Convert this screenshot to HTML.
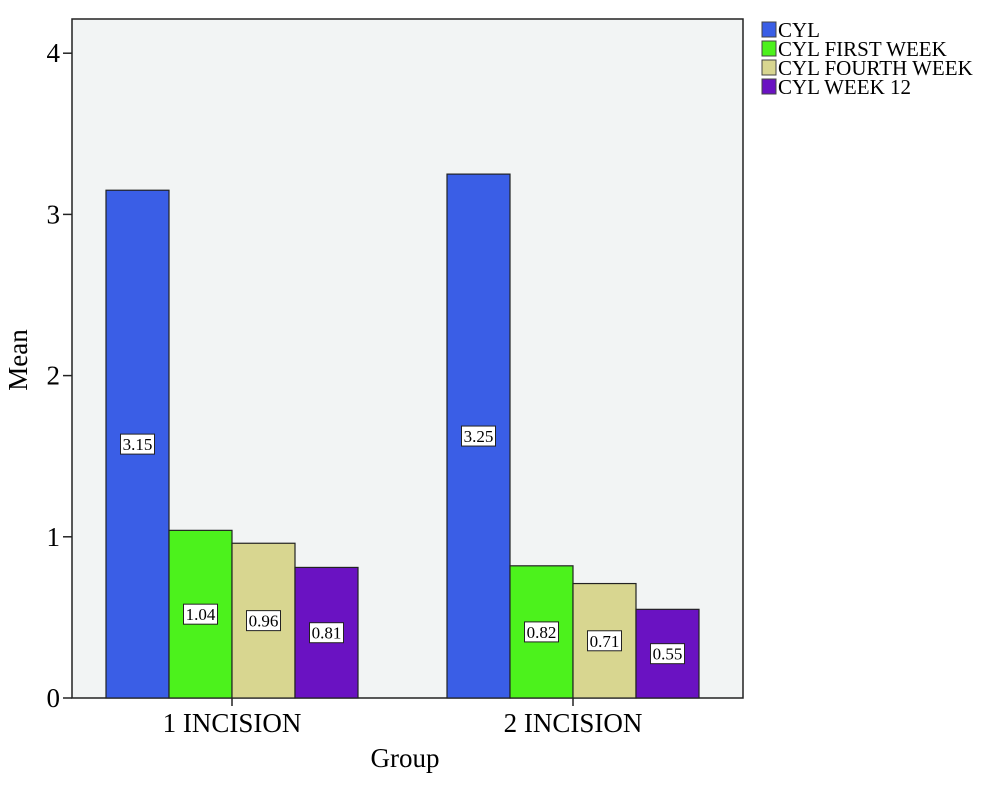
<!DOCTYPE html>
<html><head><meta charset="utf-8"><style>
body{margin:0;background:#fff}
svg text{font-family:"Liberation Serif",serif}
</style></head><body>
<svg width="1000" height="791" viewBox="0 0 1000 791">
<rect x="72" y="19" width="671" height="679" fill="#f2f4f4" stroke="#222" stroke-width="1.5"/>
<g id="bars"></g>
<g id="axes"></g>
<text x="405" y="767" font-size="27" text-anchor="middle">Group</text>
<text transform="translate(27,360) rotate(-90)" font-size="27" text-anchor="middle">Mean</text>
<g id="legend"></g>
</svg>
<script>
const categories=["1 INCISION","2 INCISION"];
const seriesNames=["CYL","CYL FIRST WEEK","CYL FOURTH WEEK","CYL WEEK 12"];
const cyl=[3.15,3.25];
const firstWeek=[1.04,0.82];
const fourthWeek=[0.96,0.71];
const week12=[0.81,0.55];
const yTicks=[0,1,2,3,4];
const colors=["#3a5ee6","#4cf21c","#d8d690","#6a12c2"];
const NS="http://www.w3.org/2000/svg";
function mk(tag,attrs,parent){const e=document.createElementNS(NS,tag);for(const k in attrs)e.setAttribute(k,attrs[k]);parent.appendChild(e);return e;}
const y0=698,pxPerUnit=161.2;
const yScale=v=>y0-v*pxPerUnit;
const groupCenters=[232,573],barW=63;
const xBar=(g,s)=>groupCenters[g]-2*barW+s*barW;
const series=[cyl,firstWeek,fourthWeek,week12];
const bars=document.getElementById('bars'),axes=document.getElementById('axes'),legend=document.getElementById('legend');
series.forEach((vals,s)=>{vals.forEach((v,g)=>{
 const x=xBar(g,s),yt=yScale(v);
 const r=mk('rect',{x:x,y:yt,width:barW,height:y0-yt,fill:colors[s],stroke:'#222','stroke-width':1.2},bars);
 
 
 const cy=(yt+y0)/2,txt=v.toFixed(2);
 const b=mk('rect',{x:x+barW/2-17,y:cy-10,width:34,height:20,fill:'#fff',stroke:'#222','stroke-width':1},bars);
 
 
 const t=mk('text',{x:x+barW/2,y:cy+6,'font-size':17,'text-anchor':'middle'},bars);
 t.textContent=txt;
 
 
});});
yTicks.forEach(v=>{const y=yScale(v);
 const l=mk('line',{x1:63,x2:72,y1:y,y2:y,stroke:'#222','stroke-width':1.5},axes);
 
 
 const t=mk('text',{x:60,y:y+9,'font-size':27,'text-anchor':'end'},axes);
 t.textContent=v;
 
 
});
categories.forEach((c,g)=>{const x=groupCenters[g];
 const l=mk('line',{x1:x,x2:x,y1:y0,y2:y0+8,stroke:'#222','stroke-width':1.5},axes);
 
 
 const t=mk('text',{x:x,y:732,'font-size':27,'text-anchor':'middle'},axes);
 t.textContent=c;
 
 
});
seriesNames.forEach((n,i)=>{const y=22+i*19;
 const r=mk('rect',{x:762,y:y,width:14,height:15,fill:colors[i],stroke:'#444','stroke-width':1},legend);
 
 
 const t=mk('text',{x:778,y:y+15,'font-size':21},legend);
 t.textContent=n;
 
 
});
</script>
</body></html>
